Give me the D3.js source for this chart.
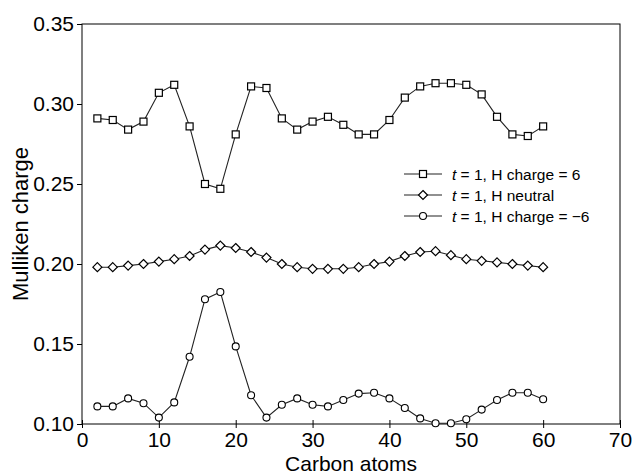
<!DOCTYPE html>
<html>
<head>
<meta charset="utf-8">
<script src="https://cdn.jsdelivr.net/npm/d3@7"></script>
<style>
  body { margin: 0; background: #fff; }
  svg { font-family: "Liberation Sans", Arial, Helvetica, sans-serif; }
</style>
</head>
<body>
<div id="chart"></div>
<script>
// Carbon atom positions (same for all three series)
const atoms = [2, 4, 6, 8, 10, 12, 14, 16, 18, 20, 22, 24, 26, 28, 30,
               32, 34, 36, 38, 40, 42, 44, 46, 48, 50, 52, 54, 56, 58, 60];

// t = 1, H charge = 6
const chargePos = [0.291, 0.290, 0.284, 0.289, 0.307, 0.312, 0.286, 0.250, 0.247, 0.281,
                   0.311, 0.310, 0.291, 0.284, 0.289, 0.292, 0.287, 0.281, 0.281, 0.290,
                   0.304, 0.311, 0.313, 0.313, 0.312, 0.306, 0.292, 0.281, 0.280, 0.286];

// t = 1, H neutral
const neutral = [0.198, 0.198, 0.199, 0.200, 0.2015, 0.203, 0.205, 0.209, 0.2115, 0.210,
                 0.2075, 0.204, 0.200, 0.198, 0.197, 0.197, 0.197, 0.198, 0.200, 0.2015,
                 0.205, 0.2075, 0.208, 0.2055, 0.203, 0.202, 0.201, 0.200, 0.199, 0.198];

// t = 1, H charge = -6
const chargeNeg = [0.111, 0.111, 0.116, 0.113, 0.104, 0.1135, 0.142, 0.178, 0.1825, 0.1485,
                   0.118, 0.104, 0.112, 0.116, 0.112, 0.111, 0.115, 0.119, 0.1195, 0.116,
                   0.110, 0.1035, 0.1005, 0.1005, 0.103, 0.109, 0.115, 0.1195, 0.1195, 0.1155];

const xTicks = [0, 10, 20, 30, 40, 50, 60, 70];
const yTicks = [0.10, 0.15, 0.20, 0.25, 0.30, 0.35];

const series = [
  { name: "chargePos", values: chargePos, marker: "square", label: "H charge = 6" },
  { name: "neutral", values: neutral, marker: "diamond", label: "H neutral" },
  { name: "chargeNeg", values: chargeNeg, marker: "circle", label: "H charge = \u22126" }
];

const W = 634, H = 474;
const margin = { top: 24, right: 14, bottom: 50, left: 82 };
const width = W - margin.left - margin.right;
const height = H - margin.top - margin.bottom;

const svg = d3.select("#chart").append("svg")
  .attr("width", W)
  .attr("height", H);

const g = svg.append("g")
  .attr("transform", `translate(${margin.left},${margin.top})`);

const x = d3.scaleLinear().domain([0, 70]).range([0, width]);
const y = d3.scaleLinear().domain([0.10, 0.35]).range([height, 0]);

// frame
g.append("rect")
  .attr("width", width)
  .attr("height", height)
  .attr("fill", "none")
  .attr("stroke", "#000")
  .attr("stroke-width", 1);

// x axis
const xAxis = g.append("g")
  .attr("transform", `translate(0,${height})`)
  .call(d3.axisBottom(x).tickValues(xTicks).tickSize(4).tickPadding(4).tickFormat(d3.format("d")));
xAxis.select(".domain").remove();
xAxis.selectAll(".tick line").attr("y1", -4).attr("y2", 4);
xAxis.selectAll("text").style("font-size", "21px").attr("fill", "#000");

// y axis
const yAxis = g.append("g")
  .call(d3.axisLeft(y).tickValues(yTicks).tickSize(5).tickPadding(3).tickFormat(d3.format(".2f")));
yAxis.select(".domain").remove();
yAxis.selectAll("text").style("font-size", "21px").attr("fill", "#000");

// axis titles
svg.append("text")
  .attr("x", margin.left + width / 2)
  .attr("y", H - 3)
  .attr("text-anchor", "middle")
  .style("font-size", "21px")
  .text("Carbon atoms");

svg.append("text")
  .attr("transform", `translate(28,${margin.top + height / 2})rotate(-90)`)
  .attr("text-anchor", "middle")
  .style("font-size", "22px")
  .text("Mulliken charge");

// marker drawing
function drawMarker(sel, type) {
  if (type === "square") {
    sel.append("rect")
      .attr("x", -3.5).attr("y", -3.5).attr("width", 7).attr("height", 7)
      .attr("fill", "#fff").attr("stroke", "#000").attr("stroke-width", 1.2);
  } else if (type === "diamond") {
    sel.append("path")
      .attr("d", "M0,-4.5L4.5,0L0,4.5L-4.5,0Z")
      .attr("fill", "#fff").attr("stroke", "#000").attr("stroke-width", 1.2);
  } else {
    sel.append("circle")
      .attr("r", 3.5)
      .attr("fill", "#fff").attr("stroke", "#000").attr("stroke-width", 1.1);
  }
}

const line = d3.line()
  .x((d, i) => x(atoms[i]))
  .y(d => y(d));

series.forEach(s => {
  g.append("path")
    .datum(s.values)
    .attr("fill", "none")
    .attr("stroke", "#222")
    .attr("stroke-width", 1.1)
    .attr("d", line);

  g.selectAll(`.pt-${s.name}`)
    .data(s.values)
    .enter()
    .append("g")
    .attr("class", `pt-${s.name}`)
    .attr("transform", (d, i) => `translate(${x(atoms[i])},${y(d)})`)
    .each(function () { drawMarker(d3.select(this), s.marker); });
});

// legend
const legend = svg.append("g").attr("transform", "translate(404,174)");
series.forEach((s, i) => {
  const row = legend.append("g").attr("transform", `translate(0,${i * 21})`);
  row.append("line")
    .attr("x1", 0).attr("x2", 38)
    .attr("stroke", "#222").attr("stroke-width", 1.1);
  drawMarker(row.append("g").attr("transform", "translate(19,0)"), s.marker);
  const t = row.append("text")
    .attr("x", 48)
    .attr("y", 5.5)
    .style("font-size", "15.5px");
  t.append("tspan").style("font-style", "italic").text("t");
  t.append("tspan").text(" = 1, " + s.label);
});
</script>
</body>
</html>
